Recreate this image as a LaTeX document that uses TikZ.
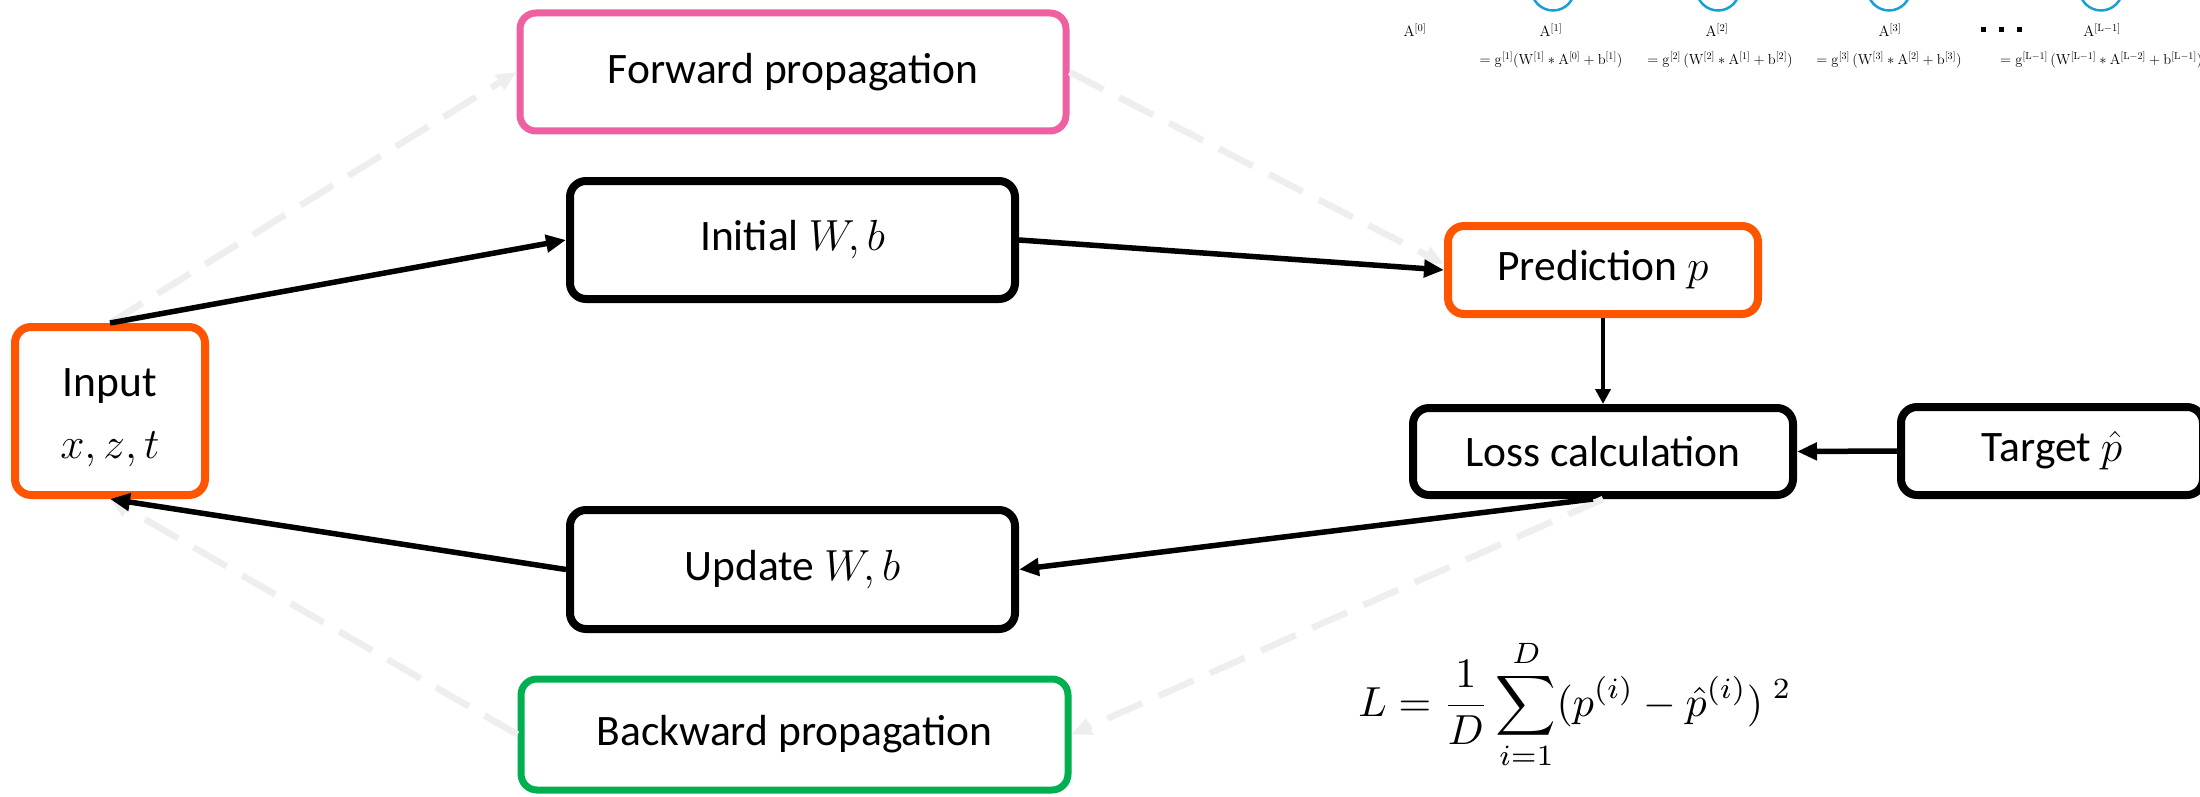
\RequirePackage{fix-cm}
\documentclass[tikz,border=0pt]{standalone}
\usepackage[no-math]{fontspec}
\setmainfont{Carlito}
\usetikzlibrary{arrows.meta}
\definecolor{orng}{RGB}{255,85,0}
\definecolor{pnk}{RGB}{238,96,162}
\definecolor{grn}{RGB}{0,176,80}
\definecolor{lgray}{RGB}{238,238,238}
\definecolor{cyanc}{RGB}{22,160,214}
\begin{document}
\begin{tikzpicture}[x=1pt,y=-1pt,
  box/.style={draw, rounded corners=16pt, fill=white, inner sep=0pt, line width=8pt, align=center,
    font=\fontsize{43.5}{64}\selectfont},
  blk/.style={line width=5.5pt, -{Triangle[length=20pt,width=17pt]}},
  thin/.style={line width=4pt, -{Triangle[length=15pt,width=15pt]}},
  gry/.style={draw=lgray, line width=6.5pt, dash pattern=on 38pt off 18pt, -{Triangle[length=20pt,width=17pt]}},
  small/.style={inner sep=0pt, font=\fontsize{15}{18}\selectfont},
  row/.style={inner sep=0pt, font=\fontsize{14.5}{17}\selectfont},
]
\clip (0,0) rectangle (2200,797);
\fill[white] (0,0) rectangle (2200,797);

% top-right network fragment
\foreach \cx in {1553,1718,1889,2101}
  \draw[cyanc, line width=2.5pt] (\cx,-11) circle[radius=21.5pt];
\node[small, anchor=base] (a0) at (1415,37) {$\mathrm{A}^{[0]}$};
\node[small, anchor=base] (a1) at (1551,37) {$\mathrm{A}^{[1]}$};
\node[small, anchor=base] (a2) at (1717,37) {$\mathrm{A}^{[2]}$};
\node[small, anchor=base] (a3) at (1890,37) {$\mathrm{A}^{[3]}$};
\node[small, anchor=base] (aL) at (2102,37) {$\mathrm{A}^{[\mathrm{L}-1]}$};
\foreach \dx in {1983,2001,2019}
  \fill (\dx-2.5,27) rectangle (\dx+2.5,32);
\node[row, anchor=base] (r1) at (1551,65) {$=\mathrm{g}^{[1]}(\mathrm{W}^{[1]}*\mathrm{A}^{[0]}+\mathrm{b}^{[1]})$};
\node[row, anchor=base] (r2) at (1720,65) {$=\mathrm{g}^{[2]}\,(\mathrm{W}^{[2]}*\mathrm{A}^{[1]}+\mathrm{b}^{[2]})$};
\node[row, anchor=base] (r3) at (1889,65) {$=\mathrm{g}^{[3]}\,(\mathrm{W}^{[3]}*\mathrm{A}^{[2]}+\mathrm{b}^{[3]})$};
\node[row, anchor=base west] (r4) at (2000,65) {$=\mathrm{g}^{[\mathrm{L}-1]}\,(\mathrm{W}^{[\mathrm{L}-1]}*\mathrm{A}^{[\mathrm{L}-2]}+\mathrm{b}^{[\mathrm{L}-1]})$};

% boxes
\node[box, draw=pnk, line width=7pt, minimum width=546pt, minimum height=118pt] (fwd) at (793,72) {Forward propagation};
\node[box, minimum width=445pt, minimum height=118pt] (init) at (792.5,240) {Initial $W, b$};
\node[box, draw=orng, minimum width=190pt, minimum height=168pt] (inp) at (110,411) {\rule{0pt}{42pt}Input\\[-2pt]$x, z, t$};
\node[box, draw=orng, minimum width=310pt, minimum height=88pt] (pred) at (1603,270) {Prediction $p$};
\node[box, minimum width=380pt, minimum height=87pt] (loss) at (1603,451.5) {Loss calculation};
\node[box, minimum width=302pt, minimum height=88pt] (tgt) at (2052,451) {Target $\hat{p}$};
\node[box, minimum width=445pt, minimum height=119pt] (upd) at (792.5,569.5) {Update $W, b$};
\node[box, draw=grn, line width=7pt, minimum width=547pt, minimum height=111pt] (bwd) at (794.5,734.5) {Backward propagation};

% formula
\node[inner sep=0pt, anchor=base] (eq) at (1575,716)
  {\scalebox{4.2}{$\displaystyle L=\frac{1}{D}\sum_{i=1}^{D}(p^{(i)}-\hat{p}^{(i)})^{\;2}$}};

% light dashed arrows
\draw[gry] (inp.north) -- (fwd.west);
\draw[gry] (fwd.east) -- ([yshift=6pt]pred.west);
\draw[gry] (loss.south) -- (bwd.east);
\draw[gry] (bwd.west) -- (inp.south);

% black arrows
\draw[blk] (inp.north) -- (init.west);
\draw[blk] (init.east) -- (pred.west);
\draw[thin] (pred.south) -- (loss.north);
\draw[blk] (tgt.west) -- (loss.east);
\draw[blk] ([xshift=-10pt]loss.south) -- (upd.east);
\draw[blk] (upd.west) -- (inp.south);
\end{tikzpicture}
\end{document}
